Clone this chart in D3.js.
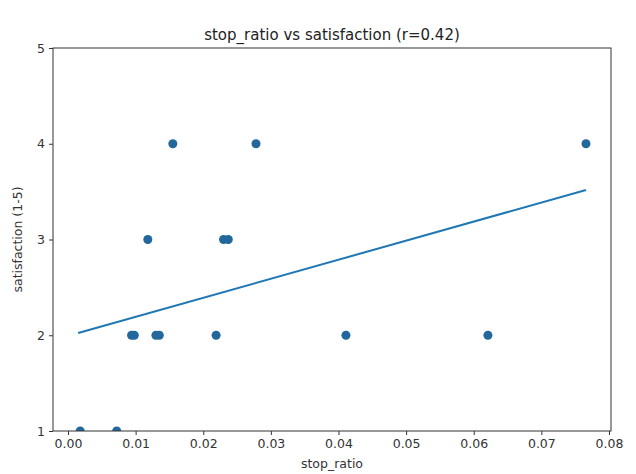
<!DOCTYPE html>
<html>
<head>
<meta charset="utf-8">
<script src="https://cdn.jsdelivr.net/npm/d3@7"></script>
<style>
  body { margin: 0; background: #fff; }
  svg { display: block; font-family: "DejaVu Sans", sans-serif; }
</style>
</head>
<body>
<div id="chart"></div>
<script>
// scatter points
const stopRatio = [0.0018, 0.0072, 0.0094, 0.0098, 0.0130, 0.0135, 0.0219, 0.0411, 0.0621,
                   0.0118, 0.0230, 0.0237, 0.0155, 0.0278, 0.0766];
const satisfaction = [1, 1, 2, 2, 2, 2, 2, 2, 2, 3, 3, 3, 4, 4, 4];

// fitted line endpoints
const fitX = [0.0015, 0.0766];
const fitY = [2.023, 3.517];

const xTicks = [0, 0.01, 0.02, 0.03, 0.04, 0.05, 0.06, 0.07, 0.08];
const yTicks = [1, 2, 3, 4, 5];

const W = 636, H = 474;
const margin = { top: 48, right: 25, bottom: 43, left: 53 };
const width = W - margin.left - margin.right,
    height = H - margin.top - margin.bottom;

const svgRoot = d3.select("#chart").append("svg")
    .attr("width", W)
    .attr("height", H);

const svg = svgRoot.append("g")
    .attr("transform", `translate(${margin.left},${margin.top})`);

const x = d3.scaleLinear().domain([-0.00222, 0.0803]).range([0, width]);
const y = d3.scaleLinear().domain([1, 5]).range([height, 0]);

svg.append("clipPath").attr("id", "clip")
    .append("rect").attr("width", width).attr("height", height);

const plot = svg.append("g").attr("clip-path", "url(#clip)");

plot.selectAll("circle")
    .data(stopRatio.map((d, i) => ({ x: d, y: satisfaction[i] })))
    .enter()
    .append("circle")
    .attr("cx", d => x(d.x))
    .attr("cy", d => y(d.y))
    .attr("r", 4.5)
    .attr("fill", "#22689c");

plot.append("path")
    .datum(fitX.map((d, i) => [d, fitY[i]]))
    .attr("fill", "none")
    .attr("stroke", "#1f77b4")
    .attr("stroke-width", 2)
    .attr("d", d3.line().x(d => x(d[0])).y(d => y(d[1])));

const xAxis = svg.append("g")
    .attr("transform", `translate(0,${height})`)
    .call(d3.axisBottom(x).tickValues(xTicks).tickFormat(d3.format(".2f")).tickSize(4).tickPadding(4));

const yAxis = svg.append("g")
    .call(d3.axisLeft(y).tickValues(yTicks).tickFormat(d3.format("d")).tickSize(4).tickPadding(4));

[xAxis, yAxis].forEach(a => {
    a.select(".domain").remove();
    a.selectAll("line").attr("stroke", "#333");
    a.selectAll("text")
        .attr("fill", "#333")
        .style("font-size", "12.5px")
        .style("font-family", "DejaVu Sans");
});

svg.append("rect")
    .attr("width", width)
    .attr("height", height)
    .attr("fill", "none")
    .attr("stroke", "#333")
    .attr("stroke-width", 1);

svg.append("text")
    .attr("x", width / 2)
    .attr("y", -8)
    .attr("text-anchor", "middle")
    .style("font-size", "15px")
    .attr("fill", "#222")
    .text("stop_ratio vs satisfaction (r=0.42)");

svg.append("text")
    .attr("x", width / 2)
    .attr("y", height + 37)
    .attr("text-anchor", "middle")
    .style("font-size", "12.5px")
    .attr("fill", "#333")
    .text("stop_ratio");

svg.append("text")
    .attr("transform", `translate(${-31},${height / 2}) rotate(-90)`)
    .attr("text-anchor", "middle")
    .style("font-size", "12.5px")
    .attr("fill", "#333")
    .text("satisfaction (1-5)");
</script>
</body>
</html>
